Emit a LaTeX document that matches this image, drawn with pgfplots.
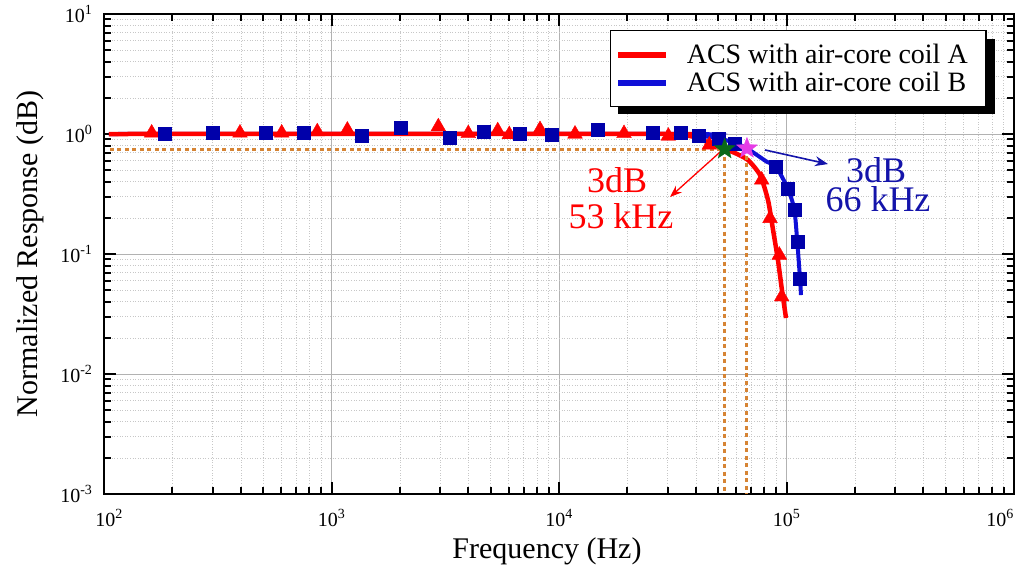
\documentclass[border=0pt]{standalone}
\usepackage{pgfplots}
\pgfplotsset{compat=1.18}
\usepackage{fontspec}
\setmainfont{Liberation Serif}
\usetikzlibrary{calc,arrows.meta}
\definecolor{cA}{RGB}{255,0,0}
\definecolor{cBl}{RGB}{15,15,215}
\definecolor{cBm}{RGB}{0,0,170}
\definecolor{cDash}{RGB}{214,132,52}
\definecolor{cGreen}{RGB}{10,105,25}
\definecolor{cMag}{RGB}{230,60,230}
\definecolor{cBtxt}{RGB}{20,20,170}
\pgfdeclareplotmark{fstar}{%
  \pgfpathmoveto{\pgfpointpolar{90}{\pgfplotmarksize}}%
  \pgfpathlineto{\pgfpointpolar{126}{0.42\pgfplotmarksize}}%
  \pgfpathlineto{\pgfpointpolar{162}{\pgfplotmarksize}}%
  \pgfpathlineto{\pgfpointpolar{198}{0.42\pgfplotmarksize}}%
  \pgfpathlineto{\pgfpointpolar{234}{\pgfplotmarksize}}%
  \pgfpathlineto{\pgfpointpolar{270}{0.42\pgfplotmarksize}}%
  \pgfpathlineto{\pgfpointpolar{306}{\pgfplotmarksize}}%
  \pgfpathlineto{\pgfpointpolar{342}{0.42\pgfplotmarksize}}%
  \pgfpathlineto{\pgfpointpolar{18}{\pgfplotmarksize}}%
  \pgfpathlineto{\pgfpointpolar{54}{0.42\pgfplotmarksize}}%
  \pgfpathclose\pgfusepathqfillstroke}
\begin{document}
\begin{tikzpicture}
\begin{axis}[
  name=ax,
  scale only axis, width=910pt, height=480pt,
  xmode=log, ymode=log,
  xmin=100, xmax=1e6, ymin=1e-3, ymax=10,
  xtick={1e2,1e3,1e4,1e5,1e6},
  xticklabels={\hspace*{10pt}10\textsuperscript{2},10\textsuperscript{3},10\textsuperscript{4},10\textsuperscript{5},\hspace*{-28pt}10\textsuperscript{6}},
  ytick={1e-3,1e-2,1e-1,1,10},
  yticklabels={10\textsuperscript{-3},10\textsuperscript{-2},10\textsuperscript{-1},10\textsuperscript{0},10\textsuperscript{1}},
  tick label style={font=\fontsize{20}{22}\selectfont, black},
  xticklabel style={yshift=-12pt},
  yticklabel style={xshift=-8pt},
  label style={font=\fontsize{30}{32}\selectfont},
  xlabel={Frequency (Hz)},
  ylabel={Normalized Response (dB)},
  xlabel style={yshift=-4pt, xshift=-12pt},
  ylabel style={yshift=10pt},
  tick align=inside,
  major tick length=12pt, minor tick length=7pt,
  tick style={line width=2pt, black},
  axis line style={line width=2.5pt},
  grid=both,
  major grid style={line width=0.8pt, black!30},
  minor grid style={line width=0.6pt, black!22, dotted},
  legend style={at={(0.9703,0.9667)}, anchor=north east, draw=black, line width=1.5pt, fill=white,
    font=\fontsize{28}{30}\selectfont, inner xsep=5pt, inner ysep=12pt,
    nodes={inner sep=1.5pt}, column sep=16pt, row sep=4pt},
  legend cell align=left,
  legend image code/.code={\draw[#1] (0pt,0pt) -- (48pt,0pt);},
]
% blue fitted line
\addplot[forget plot, cBl, line width=4pt, smooth, tension=0.4] coordinates {
(105,1.0) (34000,1.0) (41000,0.97) (50500,0.92) (59400,0.84) (67000,0.76) (81850,0.588) (89900,0.534) (101200,0.353) (108200,0.236) (111500,0.127) (114600,0.063) (115800,0.0455)};
% red fitted line
\addplot[forget plot, cA, line width=4.5pt, smooth, tension=0.4] coordinates {
(105,1.0) (30000,1.0) (34000,0.985) (38800,0.95) (46100,0.84) (53500,0.75) (59400,0.694) (67700,0.607) (76500,0.455) (82900,0.282) (87300,0.158) (91700,0.089) (95500,0.050) (99500,0.0293)};
% dashed guides
\addplot[forget plot, cDash, line width=3pt, dash pattern=on 4pt off 3.5pt] coordinates {(106,0.75) (53500,0.75)};
\addplot[forget plot, cDash, line width=3pt, dash pattern=on 4pt off 3.5pt] coordinates {(53500,0.75) (53500,0.001)};
\addplot[forget plot, cDash, line width=3pt, dash pattern=on 4pt off 3.5pt] coordinates {(67000,0.76) (67000,0.001)};
% red triangles
\addplot[forget plot, only marks, mark=triangle*, mark size=8.5pt, cA, mark options={fill=cA, draw=cA}] coordinates {
(162,1.02) (396,1.02) (604,1.02) (866,1.045) (1174,1.08) (2948,1.15) (3993,1.01) (5378,1.065) (6046,0.99) (8251,1.09) (11758,1.0) (19310,1.01) (30240,0.962) (45790,0.81) (77800,0.414) (84620,0.198) (92980,0.098) (95260,0.044)};
% blue squares
\addplot[forget plot, only marks, mark=square*, mark size=6.5pt, cBm, mark options={fill=cBm, draw=cBm}] coordinates {
(184,1.013) (300,1.02) (514,1.02) (752,1.025) (1357,0.962) (2021,1.137) (3318,0.932) (4648,1.045) (6739,1.0) (9288,0.981) (14800,1.094) (25710,1.033) (34390,1.033) (40960,0.962) (50500,0.921) (59380,0.837) (89910,0.534) (101200,0.353) (108200,0.236) (111500,0.1266) (114600,0.0627)};
% stars
\addplot[forget plot, only marks, mark=fstar, mark size=11pt, mark options={fill=cGreen, draw=cGreen, line width=0.3pt}] coordinates {(53500,0.75)};
\addplot[forget plot, only marks, mark=fstar, mark size=11pt, mark options={fill=cMag, draw=cMag, line width=0.3pt}] coordinates {(67000,0.76)};
% arrows
\draw[cA, line width=1.3pt, -{Stealth[length=12pt,width=9pt]}] (axis cs:52000,0.73) -- (axis cs:30750,0.2985);
\draw[cBtxt, line width=1.6pt, -{Stealth[length=13pt,width=10pt]}] (axis cs:80460,0.736) -- (axis cs:152200,0.562);
% annotation text
\node[cA, font=\fontsize{36}{38}\selectfont, anchor=base, inner sep=0pt] at (axis cs:17990,0.3286) {3dB};
\node[cA, font=\fontsize{36}{38}\selectfont, anchor=base, inner sep=0pt] at (axis cs:18730,0.1647) {53 kHz};
\node[cBtxt, font=\fontsize{36}{38}\selectfont, anchor=base, inner sep=0pt] at (axis cs:247400,0.398) {3dB};
\node[cBtxt, font=\fontsize{36}{38}\selectfont, anchor=base, inner sep=0pt] at (axis cs:252500,0.2239) {66 kHz};
% legend shadow
\fill[black] (rel axis cs:0.5648,0.7917) rectangle (rel axis cs:0.9791,0.9479);
% legend
\addlegendimage{cA, line width=6pt}
\addlegendentry{ACS with air-core coil A\hspace*{12pt}}
\addlegendimage{cBl, line width=6pt}
\addlegendentry{ACS with air-core coil B\hspace*{12pt}}
\end{axis}
\pgfresetboundingbox
\path[use as bounding box] ($(ax.south west)+(-104pt,-84pt)$) rectangle ($(ax.north east)+(10pt,14pt)$);
\end{tikzpicture}
\end{document}
